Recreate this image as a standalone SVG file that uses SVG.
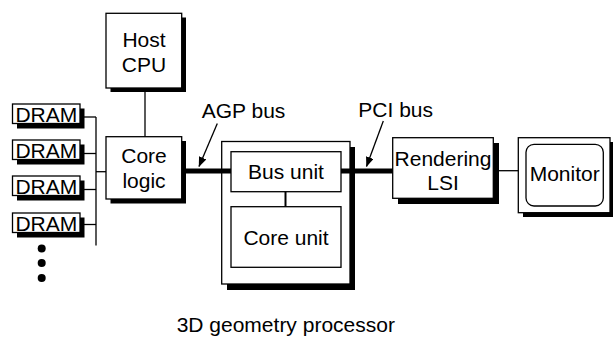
<svg xmlns="http://www.w3.org/2000/svg" width="613" height="337" viewBox="0 0 613 337">
<defs>
<marker id="ah" markerWidth="10" markerHeight="8" refX="9.5" refY="4" orient="auto" markerUnits="userSpaceOnUse"><path d="M0,0 L10,4 L0,8 Z" fill="#000"/></marker>
<style>
.box{fill:#fff;stroke:#000;stroke-width:1.3}
.sh{fill:#000}
.t{font-family:"Liberation Sans",Arial,Helvetica,sans-serif;font-size:21px;fill:#000;text-anchor:middle}
.tl{font-family:"Liberation Sans",Arial,Helvetica,sans-serif;font-size:21px;fill:#000;text-anchor:start}
.ln{stroke:#000;stroke-width:1.3;fill:none}
.bus{stroke:#000;stroke-width:5;fill:none}
.ar{stroke:#000;stroke-width:1.3;fill:none;marker-end:url(#ah)}
</style>
</defs>
<rect width="613" height="337" fill="#fff"/>

<g id="host-cpu">
<rect class="sh" x="110.5" y="17.5" width="75.5" height="74.5"/>
<rect class="box" x="106" y="13.3" width="75.7" height="74.7"/>
<text class="t" x="144" y="46.7">Host</text>
<text class="t" x="144" y="71.7">CPU</text>
</g>

<g id="core-logic">
<rect class="sh" x="110.5" y="141" width="75.5" height="62.5"/>
<rect class="box" x="106" y="136.7" width="75.7" height="62.3"/>
<text class="t" x="144" y="163.3">Core</text>
<text class="t" x="144" y="188.3">logic</text>
</g>

<g id="dram1">
<rect class="sh" x="17" y="108.5" width="67.5" height="20"/>
<rect class="box" x="12.5" y="104" width="67.5" height="19.5"/>
<text class="t" x="46.3" y="121.5">DRAM</text>
</g>
<g id="dram2">
<rect class="sh" x="17" y="144.5" width="67.5" height="20"/>
<rect class="box" x="12.5" y="140" width="67.5" height="19.5"/>
<text class="t" x="46.3" y="157.5">DRAM</text>
</g>
<g id="dram3">
<rect class="sh" x="17" y="180.5" width="67.5" height="20"/>
<rect class="box" x="12.5" y="176" width="67.5" height="19.5"/>
<text class="t" x="46.3" y="193.5">DRAM</text>
</g>
<g id="dram4">
<rect class="sh" x="17" y="217.5" width="67.5" height="20"/>
<rect class="box" x="12.5" y="213" width="67.5" height="19.5"/>
<text class="t" x="46.3" y="230.5">DRAM</text>
</g>
<g id="dram-more">
<circle cx="41.7" cy="248.5" r="4"/>
<circle cx="41.7" cy="263" r="4"/>
<circle cx="41.7" cy="278" r="4"/>
</g>

<g id="geometry-processor">
<rect class="sh" x="227" y="147" width="128" height="143"/>
<rect class="box" x="221.7" y="141.5" width="128.3" height="142.5"/>
<text class="t" x="285.8" y="332">3D geometry processor</text>
</g>
<g id="bus-unit">
<rect class="box" x="231" y="151.7" width="110" height="40"/>
<text class="t" x="286" y="179.3">Bus unit</text>
</g>
<g id="core-unit">
<rect class="box" x="231" y="206.7" width="110" height="60.6"/>
<text class="t" x="286" y="245">Core unit</text>
</g>

<g id="rendering-lsi">
<rect class="sh" x="398" y="143" width="101" height="61"/>
<rect class="box" x="392.7" y="137.7" width="100.6" height="60.6"/>
<text class="t" x="443" y="166">Rendering</text>
<text class="t" x="443" y="190">LSI</text>
</g>

<g id="monitor">
<rect class="sh" x="523" y="142" width="90" height="75"/>
<rect class="box" x="518.3" y="137.7" width="91.7" height="75"/>
<rect class="box" x="526" y="144.3" width="77.3" height="61.7" rx="8"/>
<text class="t" x="564.7" y="180.7">Monitor</text>
</g>

<g id="connectors">
<line class="ln" x1="145" y1="88" x2="145" y2="136.7"/>
<line class="ln" x1="96" y1="117" x2="96" y2="245.5"/>
<line class="ln" x1="80" y1="117" x2="96" y2="117"/>
<line class="ln" x1="80" y1="153.5" x2="96" y2="153.5"/>
<line class="ln" x1="80" y1="189.5" x2="96" y2="189.5"/>
<line class="ln" x1="80" y1="224.5" x2="96" y2="224.5"/>
<line class="ln" x1="96" y1="171.7" x2="106" y2="171.7"/>
<line class="bus" x1="182" y1="171" x2="231" y2="171"/>
<line class="bus" x1="341" y1="171" x2="392.7" y2="171"/>
<line style="stroke:#000;stroke-width:2" x1="285.5" y1="191.7" x2="285.5" y2="206.7"/>
<line class="ln" x1="493.3" y1="170.7" x2="518.3" y2="170.7"/>
<line class="ar" x1="217.3" y1="123.5" x2="199" y2="166.5"/>
<line class="ar" x1="383.3" y1="121" x2="366.5" y2="166.5"/>
<text class="tl" x="201.7" y="118.3">AGP bus</text>
<text class="tl" x="358.3" y="117">PCI bus</text>
</g>
</svg>
